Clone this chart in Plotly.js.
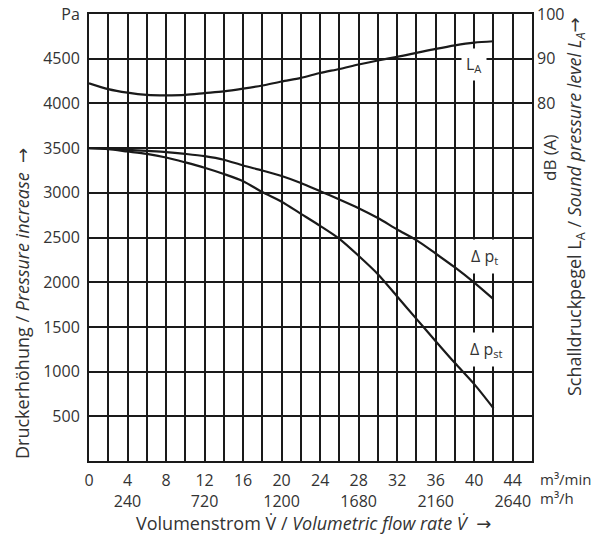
<!DOCTYPE html>
<html>
<head>
<meta charset="utf-8">
<script src="https://cdn.plot.ly/plotly-3.0.1.min.js"></script>
<style>
html,body{margin:0;padding:0;background:#fff;}
#chart{width:600px;height:539px;}
</style>
</head>
<body>
<div id="chart"></div>
<script>
// Flow rate (m³/min) sample positions
const flow = [0,2,4,6,8,10,12,14,16,18,20,22,24,26,28,30,32,34,36,38,40,42];
// Total pressure increase Δp_t (Pa)
const dpTotal = [3500,3495,3480,3468,3455,3435,3410,3370,3305,3250,3188,3110,3018,2925,2828,2718,2590,2470,2320,2165,1995,1810];
// Static pressure increase Δp_st (Pa)
const dpStatic = [3500,3488,3462,3435,3395,3340,3280,3210,3130,3008,2900,2765,2630,2485,2295,2090,1840,1590,1340,1095,860,590];
// Sound pressure level L_A (dB(A))
const soundLevel = [84.5,83.2,82.4,81.9,81.8,81.9,82.3,82.7,83.3,84.0,84.9,85.7,86.8,87.7,88.7,89.6,90.4,91.3,92.2,93.0,93.6,93.9];

// Axis tick labels
const gridX = [0,2,4,6,8,10,12,14,16,18,20,22,24,26,28,30,32,34,36,38,40,42,44,46];
const minTickVals = [0,4,8,12,16,20,24,28,32,36,40,44];
const minTickText = ['0','4','8','12','16','20','24','28','32','36','40','44'];
const hourTickVals = [4,12,20,28,36,44];
const hourTickText = ['240','720','1200','1680','2160','2640'];
const paTickVals = [0,500,1000,1500,2000,2500,3000,3500,4000,4500,5000];
const paTickText = ['','500','1000','1500','2000','2500','3000','3500','4000','4500','Pa'];
const dbTickVals = [80,90,100];
const dbTickText = ['80','90','100'];

const xText = gridX.map(v => {
  const i = minTickVals.indexOf(v);
  if (i < 0) return '';
  const j = hourTickVals.indexOf(v);
  return j < 0 ? minTickText[i] : minTickText[i] + '<br>' + hourTickText[j];
});

const lineStyle = {color:'#1a1a1a', width:2.2, shape:'spline', smoothing:0.8};
const textColor = '#333';
const FONT = '"Open Sans", "Noto Sans", sans-serif';
const ARROW = '<span style="font-family:DejaVu Sans">→</span>';

const traces = [
  {x: flow, y: dpTotal, type:'scatter', mode:'lines', line: lineStyle, hoverinfo:'skip'},
  {x: flow, y: dpStatic, type:'scatter', mode:'lines', line: lineStyle, hoverinfo:'skip'},
  {x: flow, y: soundLevel, type:'scatter', mode:'lines', line: lineStyle, yaxis:'y2', hoverinfo:'skip'}
];

const px2x = px => (px - 89) / 443;
const py2y = py => (461 - py) / 447;
const tickFont = {family:FONT, size:16, color:textColor};

const layout = {
  width: 600, height: 539,
  margin: {l:89, r:68, t:14, b:78, pad:0},
  paper_bgcolor:'#fff', plot_bgcolor:'#fff',
  showlegend:false,
  font:{family:FONT, size:16, color:textColor},
  xaxis:{
    range:[0,46], tickmode:'array', tickvals:gridX, ticktext:xText,
    showgrid:true, gridcolor:'#1a1a1a', gridwidth:2,
    showline:true, linecolor:'#1a1a1a', linewidth:2, mirror:true,
    zeroline:false, ticks:'', fixedrange:true, ticklabelstandoff:4,
    tickfont:tickFont
  },
  yaxis:{
    range:[0,5000], tickmode:'array', tickvals:paTickVals, ticktext:paTickText,
    showgrid:true, gridcolor:'#1a1a1a', gridwidth:2,
    showline:true, linecolor:'#1a1a1a', linewidth:2, mirror:true,
    zeroline:false, ticks:'', fixedrange:true, ticklabelstandoff:4,
    tickfont:tickFont
  },
  yaxis2:{
    range:[0,100], overlaying:'y', side:'right',
    tickmode:'array', tickvals:dbTickVals, ticktext:dbTickText,
    showgrid:false, zeroline:false, showline:false, ticks:'', fixedrange:true,
    ticklabelstandoff:4,
    tickfont:tickFont
  },
  annotations:[
    {xref:'x', yref:'y2', x:40, y:88.8, text:'L<sub>A</sub>', showarrow:false,
     xanchor:'center', yanchor:'middle',
     bgcolor:'#fff', borderpad:4, font:{size:16, color:textColor}},
    {xref:'x', yref:'y', x:41.1, y:2282, text:'Δ p<sub>t</sub>', showarrow:false,
     xanchor:'center', yanchor:'middle',
     bgcolor:'#fff', borderpad:5, font:{size:16, color:textColor}},
    {xref:'x', yref:'y', x:41.3, y:1242, text:'Δ p<sub>st</sub>', showarrow:false,
     xanchor:'center', yanchor:'middle',
     bgcolor:'#fff', borderpad:5, font:{size:16, color:textColor}},
    {xref:'paper', yref:'paper', x:px2x(22), y:py2y(304), textangle:-90,
     xanchor:'center', yanchor:'middle',
     text:'Druckerhöhung / <i>Pressure increase</i>  ' + ARROW, showarrow:false,
     font:{size:18, color:textColor}},
    {xref:'paper', yref:'paper', x:px2x(575), y:py2y(207), textangle:-90,
     xanchor:'center', yanchor:'middle',
     text:'Schalldruckpegel L<sub>A</sub> / <i>Sound pressure level L<sub>A</sub></i>' + ARROW, showarrow:false,
     font:{size:18, color:textColor}},
    {xref:'paper', yref:'paper', x:px2x(549), y:py2y(158), textangle:-90,
     xanchor:'center', yanchor:'middle',
     text:'dB (A)', showarrow:false, font:{size:17, color:textColor}},
    {xref:'paper', yref:'paper', x:px2x(313), y:py2y(523),
     xanchor:'center', yanchor:'middle',
     text:'Volumenstrom V\u0307 / <i>Volumetric flow rate V\u0307</i>  ' + ARROW, showarrow:false,
     font:{size:18, color:textColor}},
    {xref:'paper', yref:'paper', x:px2x(538), y:py2y(479), xanchor:'left', yanchor:'middle',
     text:'m³/min', showarrow:false, font:{size:15, color:textColor}},
    {xref:'paper', yref:'paper', x:px2x(538), y:py2y(498), xanchor:'left', yanchor:'middle',
     text:'m³/h', showarrow:false, font:{size:15, color:textColor}}
  ]
};

Plotly.newPlot('chart', traces, layout, {staticPlot:true, displayModeBar:false});
</script>
</body>
</html>
